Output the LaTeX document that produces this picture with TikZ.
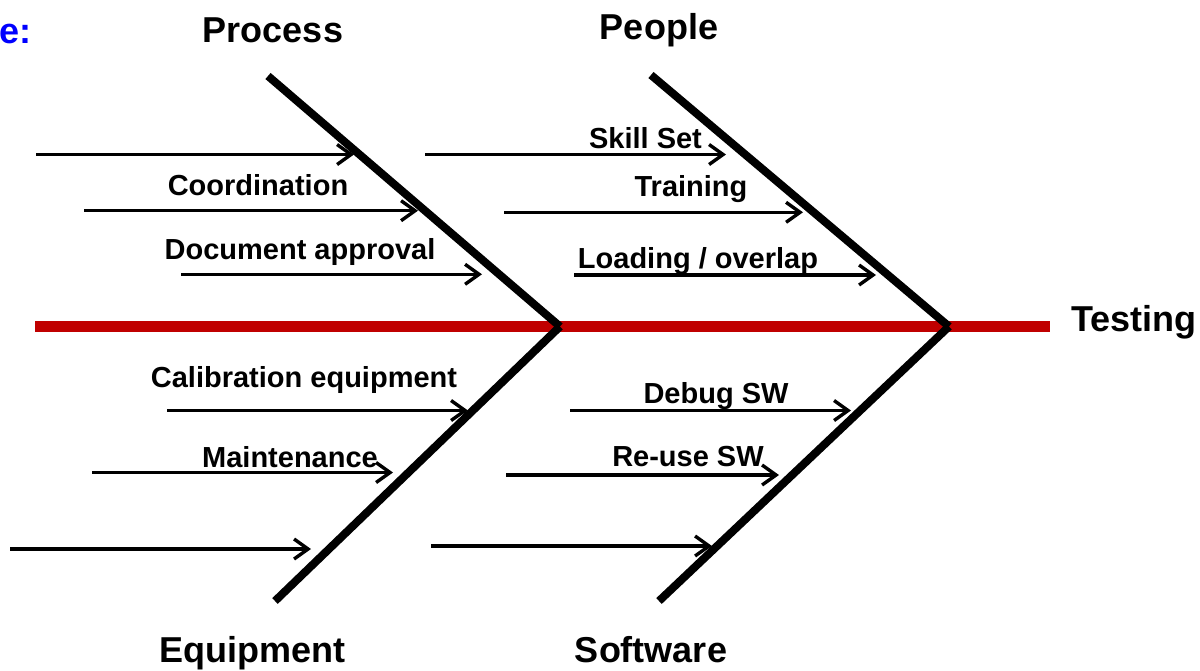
\documentclass[tikz,border=0pt]{standalone}
\usepackage{fontspec}
\setmainfont{Liberation Sans}
\usepackage{xcolor}
\usetikzlibrary{positioning, arrows.meta}
\definecolor{spinered}{HTML}{C00000}
\definecolor{titleblue}{HTML}{0000FF}

\begin{document}
\begin{tikzpicture}[x=0.5pt, y=-0.5pt,
    bone/.style={line width=4pt},
    spine/.style={line width=5.5pt, spinered},
    cause/.style={line width=1.7pt, -{Straight Barb[length=7pt, width=10pt, line width=1.7pt]}},
    category/.style={font=\bfseries\fontsize{18}{20}\selectfont, inner sep=0pt, anchor=base},
    reason/.style={font=\bfseries\fontsize{14.5}{16}\selectfont, inner sep=0pt, anchor=base}]
  \useasboundingbox (0,0) rectangle (1200,670);

  % main spine towards the effect
  \coordinate (tail) at (35,326.5);
  \coordinate (nose) at (1050,326.5);
  \draw[spine] (tail) -- (nose);
  \node[category, anchor=base west] (effect) at (1071,331) {Testing};

  % the four bones
  \coordinate (jointA) at (560,326.5);
  \coordinate (jointB) at (949,326.5);
  \coordinate (processEnd) at (268,76);
  \coordinate (peopleEnd) at (651,75);
  \coordinate (equipEnd) at (275,601);
  \coordinate (softEnd) at (659,601);
  \draw[bone] (processEnd) -- (jointA);
  \draw[bone] (equipEnd) -- (jointA);
  \draw[bone] (peopleEnd) -- (jointB);
  \draw[bone] (softEnd) -- (jointB);

  \node[category] (process) at (273,42) {Process};
  \node[category] (people) at (659,39) {People};
  \node[category] (equipment) at (252,662) {Equipment};
  \node[category] (software) at (651,662) {Software};
  \node[category, anchor=base east, titleblue] (heading) at (32,43) {e:};

  % cause arrows: name / start x / end x / y
  \foreach \n/\xa/\xb/\y in {pa/36/354/154.5, pb/84/418/210.7, pc/181/482/274.3,
      qa/425/726/154.5, qb/504/803/212.3, qc/574/876/275,
      ea/167/468/410.5, eb/92/393/472.5, ec/10/311/549,
      sa/570/851/410.5, sb/506/779/475, sc/431/712/546} {
    \coordinate (\n s) at (\xa,\y);
    \coordinate (\n e) at (\xb,\y);
    \draw[cause] (\n s) -- (\n e);
  }

  % labels on the arrows
  \node[reason] (coord) at (258,195) {Coordination};
  \node[reason] (docapp) at (300,259) {Document approval};
  \node[reason] (skill) at (645.5,148) {Skill Set};
  \node[reason] (train) at (691,196) {Training};
  \node[reason] (load) at (698,268) {Loading / overlap};
  \node[reason] (calib) at (304,387) {Calibration equipment};
  \node[reason] (maint) at (290,467) {Maintenance};
  \node[reason] (debug) at (716,403) {Debug SW};
  \node[reason] (reuse) at (688,466) {Re-use SW};
\end{tikzpicture}
\end{document}
